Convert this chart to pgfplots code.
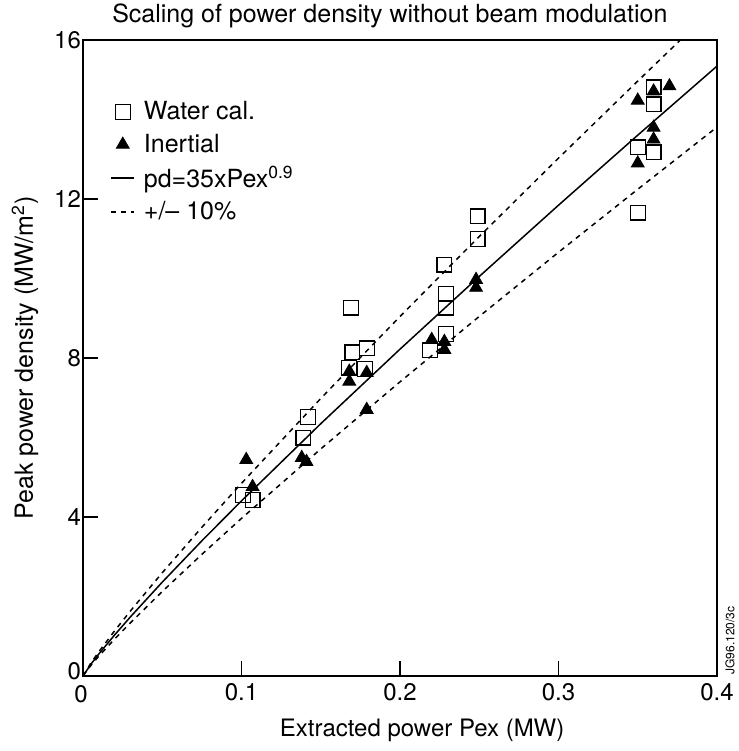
\documentclass[border=0pt]{standalone}
\usepackage{pgfplots}
\usepackage{pgfplotstable}
\pgfplotsset{compat=1.18}
\usepackage{fontspec}
\setmainfont{TeX Gyre Heros}
\pgfplotsset{lineleg/.style={legend image code/.code={\draw[##1] (0.1cm,0cm) -- (0.5cm,0cm);}}}
\pgfplotstableread{
x y
0.101 4.56
0.107 4.43
0.139 6.00
0.142 6.52
0.168 7.76
0.169 9.27
0.170 8.14
0.178 7.73
0.179 8.24
0.219 8.19
0.228 10.35
0.229 9.62
0.229 9.27
0.229 8.61
0.249 11.00
0.249 11.56
0.350 13.30
0.350 11.66
0.360 14.81
0.360 14.38
0.360 13.17
}\watertab
\pgfplotstableread{
x y
0.103 5.44
0.107 4.76
0.138 5.49
0.141 5.39
0.168 7.66
0.168 7.41
0.179 7.63
0.179 6.70
0.220 8.46
0.228 8.41
0.228 8.21
0.248 9.97
0.248 9.77
0.350 14.48
0.350 12.90
0.360 14.71
0.360 13.80
0.360 13.50
0.370 14.84
}\inertialtab
\pgfplotstableread{
x y
0 0
0.005 0.2975
0.01 0.5547
0.02 1.035
0.03 1.491
0.05 2.361
0.075 3.401
0.1 4.406
0.15 6.347
0.2 8.222
0.25 10.051
0.3 11.844
0.35 13.606
0.4 15.343
}\fittab
\pgfplotstableread{
x y
0 0
0.005 0.327
0.01 0.610
0.02 1.139
0.03 1.640
0.05 2.597
0.075 3.741
0.1 4.847
0.15 6.982
0.2 9.044
0.25 11.056
0.3 13.028
0.35 14.967
0.3769 16.0
}\uptab
\pgfplotstableread{
x y
0 0
0.005 0.268
0.01 0.499
0.02 0.932
0.03 1.342
0.05 2.125
0.075 3.061
0.1 3.965
0.15 5.712
0.2 7.400
0.25 9.046
0.3 10.660
0.35 12.245
0.4 13.809
}\lowtab
\begin{document}
\begin{tikzpicture}
\useasboundingbox (-41.5pt,-37.5pt) rectangle (328pt,338pt);
\begin{axis}[
  width=317pt, height=318pt, scale only axis,
  xmin=0, xmax=0.4, ymin=0, ymax=16,
  xtick={0.1,0.2,0.3,0.4},
  xticklabels={0.1,0.2,0.3,0.4},
  ytick={4,8,12,16},
  yticklabels={4,8,12,16},
  extra x ticks={0},
  extra x tick labels={0},
  extra x tick style={xticklabel style={xshift=-1pt, yshift=-1pt}},
  extra y ticks={0},
  extra y tick labels={0},
  extra y tick style={yticklabel style={yshift=2.5pt}},
  /pgf/number format/assume math mode=true,
  tick align=inside,
  xtick pos=bottom, ytick pos=left,
  major tick length=7.5pt,
  axis line style={line width=0.75pt},
  every tick/.style={line width=0.75pt, black},
  ticklabel style={font=\fontsize{12}{14}\selectfont},
  yticklabel style={xshift=2.5pt},
  xlabel={Extracted power Pex (MW)},
  ylabel={Peak power density (MW/m\textsuperscript{2})},
  xlabel style={font=\fontsize{12}{14}\selectfont, at={(axis description cs:0.535,0)}, anchor=center, yshift=-27pt},
  ylabel style={font=\fontsize{12.5}{14}\selectfont, at={(axis description cs:-0.0915,0.5)}, anchor=center, rotate=0},
  title={Scaling of power density without beam modulation},
  title style={font=\fontsize{12.5}{14}\selectfont, at={(axis description cs:0.484,1)}, anchor=base, yshift=3pt},
  legend cell align=left,
  legend style={draw=none, fill=none, at={(axis description cs:0.043,0.91)}, anchor=north west,
    font=\fontsize{12.5}{15}\selectfont, row sep=1.5pt, inner sep=0pt,
    /tikz/every odd column/.append style={column sep=2.5pt}},
]
\addplot[only marks, mark=square, mark size=3.7pt, mark options={line width=0.6pt, black}] table[x=x,y=y] {\watertab};
\addlegendentry{Water cal.}
\addplot[only marks, mark=triangle*, mark size=3.7pt, mark options={black, fill=black}] table[x=x,y=y] {\inertialtab};
\addlegendentry{Inertial}
\addplot[black, line width=0.75pt, lineleg] table[x=x,y=y] {\fittab};
\addlegendentry{pd=35xPex\textsuperscript{0.9}}
\addplot[black, line width=0.75pt, dash pattern=on 2.5pt off 2.5pt, lineleg] table[x=x,y=y] {\uptab};
\addlegendentry{+/\textendash{} 10\%}
\addplot[black, line width=0.75pt, dash pattern=on 2.5pt off 2.5pt, forget plot] table[x=x,y=y] {\lowtab};
\end{axis}
\node[rotate=90, anchor=north west, inner sep=0pt, font=\fontsize{6}{7}\selectfont] at (321pt,0.5pt) {JG96.120/3c};
\end{tikzpicture}
\end{document}
